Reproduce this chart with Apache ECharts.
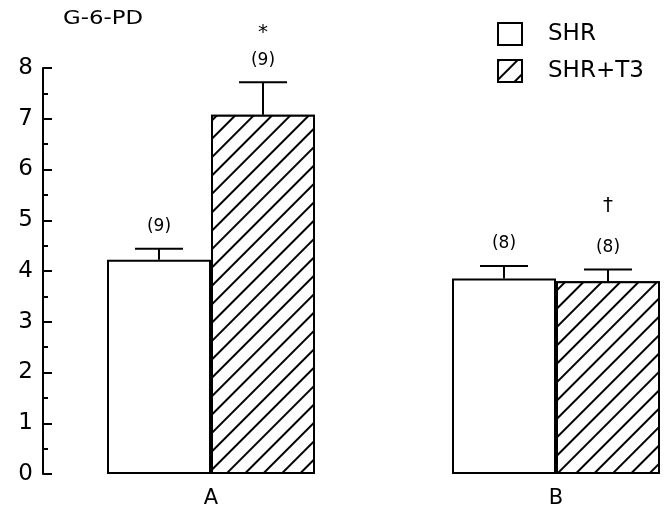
<!DOCTYPE html>
<html><head><meta charset="utf-8">
<script src="https://cdn.jsdelivr.net/npm/echarts@6/dist/echarts.min.js"></script>
<style>html,body{margin:0;padding:0;background:#fff}#c{width:669px;height:509px}</style>
</head><body><div id="c"></div>
<script>
// ---- data ----
const categories = ['A', 'B'];
const seriesNames = ['SHR', 'SHR+T3'];
const shrMean = [4.22, 3.85];
const shrErr = [0.22, 0.25];
const t3Mean = [7.08, 3.80];
const t3Err = [0.64, 0.23];
const shrN = ['(9)', '(8)'];
const t3N = ['(9)', '(8)'];
const shrSig = ['', ''];
const t3Sig = ['*', '†'];
const yMin = 0, yMax = 8, yStep = 1;
const titleText = 'G-6-PD';

// ---- styles ----
const FONT = 'DejaVu Sans';
const BAR_W = 104;
const SIG_OFF = { '*': 27, '†': 42 };
const hatch = { symbol: 'rect', symbolSize: 1, dashArrayX: [1, 0], dashArrayY: [2, 11],
  rotation: -Math.PI / 4, color: '#000', backgroundColor: '#fff' };

function errSeries(idx, means, errs, ns, sigs) {
  const dir = idx === 0 ? -1 : 1;
  return {
    type: 'custom', name: seriesNames[idx] + ' err', silent: true, z: 5,
    data: categories.map((c, i) => [i, means[i], errs[i]]),
    renderItem(params, api) {
      const i = params.dataIndex;
      const cat = api.value(0);
      const base = api.coord([cat, api.value(1)]);
      const top = api.coord([cat, api.value(1) + api.value(2)]);
      const x = base[0] + dir * BAR_W / 2;
      const children = [
        { type: 'line', shape: { x1: x, y1: base[1], x2: x, y2: top[1] }, style: { stroke: '#000', lineWidth: 2 } },
        { type: 'line', shape: { x1: x - 24, y1: top[1], x2: x + 24, y2: top[1] }, style: { stroke: '#000', lineWidth: 2 } },
        { type: 'text', x: x, y: top[1] - 22, style: { text: ns[i], fontSize: 17, fontFamily: FONT, fill: '#000', align: 'center', verticalAlign: 'middle' } }
      ];
      if (sigs[i]) {
        children.push({ type: 'text', x: x, y: top[1] - 22 - SIG_OFF[sigs[i]],
          style: { text: sigs[i], fontSize: 20, fontFamily: FONT, fill: '#000', align: 'center', verticalAlign: 'middle' } });
      }
      return { type: 'group', children };
    }
  };
}

const chart = echarts.init(document.getElementById('c'), null, { renderer: 'canvas' });
chart.setOption({
  animation: false,
  backgroundColor: '#fff',
  graphic: [{ type: 'text', x: 63, y: 10, scaleX: 1.2,
    style: { text: titleText, fontSize: 19, fontFamily: FONT, fill: '#000', align: 'left', verticalAlign: 'top' } }],
  legend: { orient: 'vertical', left: 492, top: 17, itemWidth: 24, itemHeight: 22, itemGap: 13,
    icon: 'rect', data: seriesNames,
    textStyle: { fontFamily: FONT, fontSize: 23, color: '#000', padding: [0, 0, 0, 21] } },
  grid: { left: 38.5, top: 68, width: 690, height: 406, outerBoundsMode: 'none', containLabel: false },
  xAxis: { type: 'category', data: categories,
    axisLine: { show: false }, axisTick: { show: false },
    axisLabel: { margin: 14, fontFamily: FONT, fontSize: 21, color: '#000' } },
  yAxis: { type: 'value', min: yMin, max: yMax, interval: yStep, offset: -4.5,
    axisLine: { show: true, lineStyle: { color: '#000', width: 2 } },
    axisTick: { show: true, inside: true, length: 9, lineStyle: { color: '#000', width: 2 } },
    minorTick: { show: true, splitNumber: 2, length: 5, lineStyle: { color: '#000', width: 2 } },
    splitLine: { show: false },
    axisLabel: { margin: 10, fontFamily: FONT, fontSize: 23, color: '#000' } },
  series: [
    { type: 'bar', name: seriesNames[0], data: shrMean, barWidth: BAR_W, barGap: '0%',
      itemStyle: { color: '#fff', borderColor: '#000', borderWidth: 2 } },
    { type: 'bar', name: seriesNames[1], data: t3Mean, barWidth: BAR_W, barGap: '0%',
      itemStyle: { color: '#fff', borderColor: '#000', borderWidth: 2, decal: hatch } },
    errSeries(0, shrMean, shrErr, shrN, shrSig),
    errSeries(1, t3Mean, t3Err, t3N, t3Sig)
  ]
});
</script>
</body></html>
